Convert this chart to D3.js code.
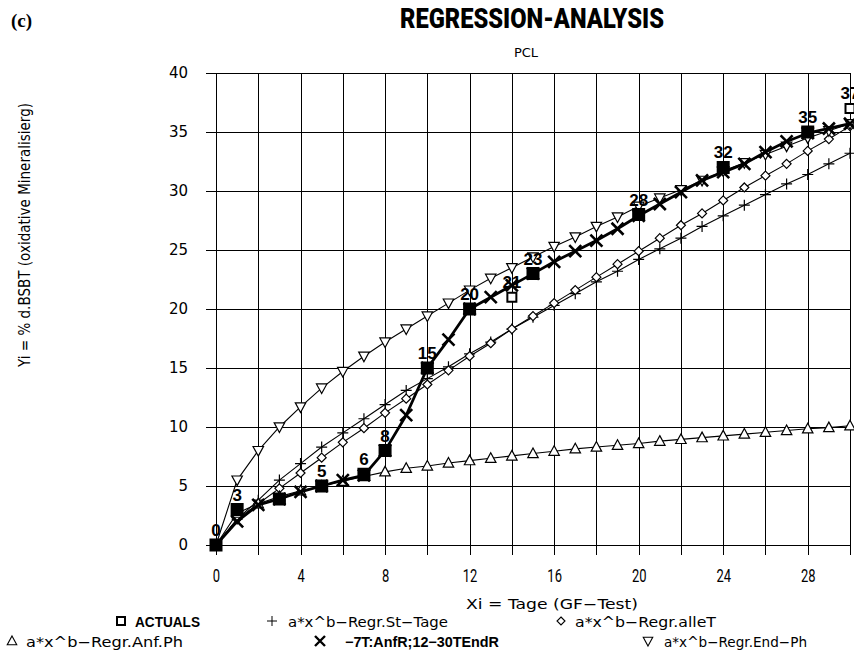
<!DOCTYPE html>
<meta charset="utf-8">
<style>
 body { margin: 0; background: white; }
 text { font-family: "DejaVu Sans", sans-serif; fill: black; }
 .grid line { stroke: #000; stroke-width: 1; shape-rendering: crispEdges; }
 .thin { fill: none; stroke: #000; stroke-width: 1.1; }
 .bold { fill: none; stroke: #000; stroke-width: 2.8; stroke-linejoin: round; }
 .mk { fill: white; stroke: #000; stroke-width: 1.2; }
 .lbl { font-family: "Liberation Sans", Arial, sans-serif; font-weight: bold; font-size: 17px; }
</style>
<svg id="chart" width="854" height="655"></svg>
<script src="https://cdn.jsdelivr.net/npm/d3@7"></script>
<script>

 // days 0..30 of the GF test
 var days = [0,1,2,3,4,5,6,7,8,9,10,11,12,13,14,15,16,17,18,19,20,21,22,23,24,25,26,27,28,29,30];

 // measured values
 var actualDays   = [0, 1, 3,   5, 7, 8, 10, 12, 14, 15, 20, 24, 28, 30];
 var actualValues = [0, 3, 3.9, 5, 6, 8, 15, 20, 21, 23, 28, 32, 35, 37];
 var actualLabels = ["0","3","","5","6","8","15","20","21","23","28","32","35","37"];
 var openDays = [14, 30];

 // regression curves, one value per day
 var stTage = [0, 2.2, 3.8, 5.5, 6.9, 8.3, 9.5, 10.7, 11.9, 13.1, 14.1, 15.1, 16.2, 17.2, 18.3, 19.3,
               20.3, 21.3, 22.3, 23.2, 24.2, 25.1, 26.0, 27.0, 27.9, 28.8, 29.7, 30.6, 31.4, 32.3, 33.2];
 var alleT  = [0, 2.2, 3.5, 4.8, 6.1, 7.4, 8.7, 9.9, 11.2, 12.4, 13.6, 14.8, 16.0, 17.1, 18.3, 19.4,
               20.5, 21.6, 22.7, 23.8, 24.9, 26.0, 27.1, 28.1, 29.2, 30.3, 31.3, 32.3, 33.4, 34.4, 35.5];
 var anfPh  = [0, 2.7, 3.5, 4.1, 4.6, 5.0, 5.4, 5.8, 6.2, 6.5, 6.7, 6.95, 7.15, 7.35, 7.55, 7.75,
               7.95, 8.15, 8.3, 8.45, 8.6, 8.8, 8.95, 9.1, 9.25, 9.4, 9.55, 9.7, 9.85, 9.95, 10.1];
 var endPh  = [0, 5.5, 8.0, 10.0, 11.7, 13.3, 14.7, 16.0, 17.2, 18.3, 19.4, 20.5, 21.6, 22.6, 23.5, 24.4,
               25.3, 26.1, 27.0, 27.8, 28.7, 29.4, 30.1, 30.9, 31.7, 32.4, 33.1, 33.8, 34.5, 35.1, 35.7];
 var combo  = [0, 2.0, 3.4, 3.9, 4.5, 5.0, 5.5, 5.9, 8.0, 11.0, 15.0, 17.4, 20.0, 21.0, 22.0, 23.0,
               24.0, 24.9, 25.8, 26.8, 27.9, 28.9, 29.9, 30.9, 31.6, 32.3, 33.3, 34.2, 34.9, 35.3, 35.7];

 var xGridTicks = [0,2,4,6,8,10,12,14,16,18,20,22,24,26,28,30];
 var yTicks = [0,5,10,15,20,25,30,35,40];

 var legendNames = ["ACTUALS", "a*x^b\u2212Regr.St\u2212Tage", "a*x^b\u2212Regr.alleT",
                    "a*x^b\u2212Regr.Anf.Ph", "\u22127T:AnfR;12\u221230TEndR", "a*x^b\u2212Regr.End\u2212Ph"];

 var plotLeft = 216, plotRight = 850, plotTop = 73, plotBottom = 545;

 var svg = d3.select("#chart");
 var x = d3.scaleLinear().domain([0, 30]).range([plotLeft, plotRight]);
 var y = d3.scaleLinear().domain([0, 40]).range([plotBottom, plotTop]);

 function shape(type, r)
 {
     if (type == "square") return "M" + (-r) + "," + (-r) + "h" + 2*r + "v" + 2*r + "h" + (-2*r) + "Z";
     if (type == "plus") return "M" + (-r) + ",0H" + r + "M0," + (-r) + "V" + r;
     if (type == "diamond") return "M0," + (-r) + "L" + r + ",0L0," + r + "L" + (-r) + ",0Z";
     if (type == "up") return "M0," + (-r) + "L" + (r*0.95) + "," + (r*0.75) + "L" + (-r*0.95) + "," + (r*0.75) + "Z";
     if (type == "down") return "M0," + r + "L" + (r*0.95) + "," + (-r*0.75) + "L" + (-r*0.95) + "," + (-r*0.75) + "Z";
     if (type == "cross") return "M" + (-r) + "," + (-r) + "L" + r + "," + r + "M" + r + "," + (-r) + "L" + (-r) + "," + r;
 }

 // text
 svg.append("text").attr("x", 11).attr("y", 27)
    .style("font-family", "'Liberation Serif', serif").style("font-weight", "bold").style("font-size", "19px")
    .text("(c)");

 svg.append("text").attr("x", 400).attr("y", 28)
    .style("font-family", "Roboto, sans-serif").style("font-weight", "900").style("font-size", "28px")
    .attr("textLength", 264).attr("lengthAdjust", "spacingAndGlyphs")
    .text("REGRESSION-ANALYSIS");

 svg.append("text").attr("x", 526).attr("y", 57).attr("text-anchor", "middle")
    .style("font-size", "13px").text("PCL");

 svg.append("text").attr("transform", "translate(30,235) rotate(-90)").attr("text-anchor", "middle")
    .style("font-size", "15px").attr("textLength", 264).attr("lengthAdjust", "spacingAndGlyphs")
    .text("Yi = % d.BSBT (oxidative Mineralisierg)");

 svg.append("text").attr("x", 466).attr("y", 609)
    .style("font-size", "14px").attr("textLength", 172).attr("lengthAdjust", "spacingAndGlyphs")
    .text("Xi = Tage (GF\u2212Test)");

 // grid + axes
 var gy = svg.append("g").attr("class", "grid").attr("transform", "translate(" + plotLeft + ",0)")
             .call(d3.axisLeft(y).tickValues(yTicks).tickSize(-(plotRight - plotLeft)).tickSizeOuter(0).tickPadding(28));
 gy.selectAll(".tick line").attr("x1", -10);
 gy.selectAll(".tick text").style("font-size", "15px").style("font-family", "'DejaVu Sans', sans-serif");

 var gx = svg.append("g").attr("class", "grid").attr("transform", "translate(0," + plotBottom + ")")
             .call(d3.axisBottom(x).tickValues(xGridTicks).tickSize(-(plotBottom - plotTop)).tickSizeOuter(0).tickPadding(25)
                   .tickFormat(function(d) { return (d % 4 == 0 && d < 30) ? d : ""; }));
 gx.selectAll(".tick line").attr("y1", 10);
 gx.selectAll(".tick text").style("font-size", "18px").style("font-family", "Roboto, sans-serif")
   .attr("y", 24).attr("transform", "scale(0.72,1)");
 svg.selectAll(".grid .domain").remove();

 // curves
 var series = [
     { vals: stTage, mark: "plus",    r: 5.5 },
     { vals: alleT,  mark: "diamond", r: 4.5 },
     { vals: anfPh,  mark: "up",      r: 5.5 },
     { vals: endPh,  mark: "down",    r: 5.5 }
 ];

 var line = d3.line().x(function(d) { return x(d[0]); }).y(function(d) { return y(d[1]); });

 series.forEach(function(s) {
     var pts = days.map(function(d, i) { return [d, s.vals[i]]; });
     svg.append("path").attr("class", "thin").attr("d", line(pts));
     svg.append("g").selectAll("path").data(pts.slice(1)).enter().append("path")
        .attr("class", "mk").style("fill", s.mark == "plus" ? "none" : "white")
        .attr("transform", function(d) { return "translate(" + x(d[0]) + "," + y(d[1]) + ")"; })
        .attr("d", shape(s.mark, s.r));
 });

 var comboPts = days.map(function(d, i) { return [d, combo[i]]; });
 svg.append("path").attr("class", "bold").attr("d", line(comboPts));
 svg.append("g").selectAll("path").data(comboPts.slice(1)).enter().append("path")
    .attr("transform", function(d) { return "translate(" + x(d[0]) + "," + y(d[1]) + ")"; })
    .attr("d", shape("cross", 6)).style("fill", "none").style("stroke", "#000").style("stroke-width", 2.6);

 var actualPts = actualDays.map(function(d, i) { return [d, actualValues[i], actualLabels[i]]; });
 svg.append("g").selectAll("path").data(actualPts).enter().append("path")
    .attr("transform", function(d) { return "translate(" + x(d[0]) + "," + y(d[1]) + ")"; })
    .attr("d", function(d) { return openDays.indexOf(d[0]) >= 0 ? shape("square", 4.5) : shape("square", 5.5); })
    .style("fill", function(d) { return openDays.indexOf(d[0]) >= 0 ? "white" : "#000"; })
    .style("stroke", "#000").style("stroke-width", 2);

 svg.append("g").selectAll("text").data(actualPts).enter().append("text").attr("class", "lbl")
    .attr("x", function(d) { return x(d[0]); })
    .attr("y", function(d) { return y(d[1]) - 9; })
    .attr("text-anchor", "middle")
    .text(function(d) { return d[2]; });

 // legend
 var legendPos = [
     { mx: 121, tx: 135, w: 65,  y: 622, mark: "square",  r: 4,   sw: 2,   bold: true },
     { mx: 272, tx: 288, w: 160, y: 622, mark: "plus",    r: 5,   sw: 1,   bold: false },
     { mx: 561, tx: 575, w: 141, y: 622, mark: "diamond", r: 4,   sw: 1.1, bold: false },
     { mx: 12,  tx: 26,  w: 157, y: 642, mark: "up",      r: 5,   sw: 1.1, bold: false },
     { mx: 320, tx: 345, w: 154, y: 642, mark: "cross",   r: 5,   sw: 2.4, bold: true },
     { mx: 648, tx: 664, w: 143, y: 642, mark: "down",    r: 5,   sw: 1.1, bold: false }
 ];
 var leg = svg.append("g").selectAll("g").data(legendPos).enter().append("g");
 leg.append("path")
    .attr("transform", function(d) { return "translate(" + d.mx + "," + (d.y - 1) + ")"; })
    .attr("d", function(d) { return shape(d.mark, d.r); })
    .style("fill", "none").style("stroke", "#000").style("stroke-width", function(d) { return d.sw; });
 leg.append("text")
    .attr("x", function(d) { return d.tx; }).attr("y", function(d) { return d.y + 5; })
    .attr("textLength", function(d) { return d.w; }).attr("lengthAdjust", "spacingAndGlyphs")
    .style("font-size", "14px")
    .style("font-weight", function(d) { return d.bold ? "bold" : "normal"; })
    .style("font-family", function(d) { return d.bold ? "'Liberation Sans', Arial, sans-serif" : "'DejaVu Sans', sans-serif"; })
    .text(function(d, i) { return legendNames[i]; });

</script>
